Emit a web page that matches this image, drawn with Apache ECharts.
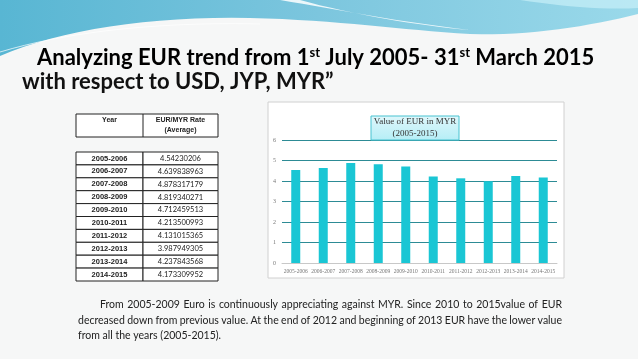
<!DOCTYPE html>
<html><head><meta charset="utf-8">
<script src="https://cdn.jsdelivr.net/npm/echarts@6/dist/echarts.min.js"></script>
<style>html,body{margin:0;padding:0;background:#f6f7f7}#c{width:638px;height:359px}</style>
</head><body><div id="c"></div>
<script>
const categories = ['2005-2006','2006-2007','2007-2008','2008-2009','2009-2010','2010-2011','2011-2012','2012-2013','2013-2014','2014-2015'];
const rateText = ['4.54230206','4.639838963','4.878317179','4.819340271','4.712459513','4.213500993','4.131015365','3.987949305','4.237843568','4.173309952'];
const rates = rateText.map(Number);
const titleLine1 = ['Analyzing EUR trend from 1','st',' July 2005- 31','st',' March 2015'];
const titleLine2 = 'with respect to USD, JYP, MYR\u201D';
const bodyLines = [
 'From 2005-2009 Euro is continuously appreciating against MYR. Since 2010 to 2015value of EUR',
 'decreased down from previous value. At the end of 2012 and beginning of 2013 EUR have the lower value',
 'from all the years (2005-2015).'
];
function lin(x2,y2,stops){return {type:'linear',x:0,y:0,x2:x2,y2:y2,colorStops:stops};}
function bez(p0,p1,p2,p3,n){const out=[];for(let i=0;i<=n;i++){const t=i/n,u=1-t;out.push([u*u*u*p0[0]+3*u*u*t*p1[0]+3*u*t*t*p2[0]+t*t*t*p3[0],u*u*u*p0[1]+3*u*u*t*p1[1]+3*u*t*t*p2[1]+t*t*t*p3[1]]);}return out;}
const mctx = document.createElement('canvas').getContext('2d');

const chart = echarts.init(document.getElementById('c'), null, {renderer:'canvas'});
const g = [];
let wave = [[0,0],[638,0]].concat(bez([638,14],[590,26],[530,36],[470,34],16), bez([470,34],[400,30],[340,20],[250,18],16), bez([250,18],[150,16],[60,30],[0,56],16));
g.push({type:'polygon', shape:{points:wave}, style:{fill:lin(1,0,[{offset:0,color:'#58b6d3'},{offset:0.5,color:'#7cc6de'},{offset:1,color:'#9ad9ea'}])}, z:0});
let sw = bez([280,0],[340,10],[400,22],[470,30],16).concat(bez([470,30],[420,26],[350,14],[300,0],16));
g.push({type:'polygon', shape:{points:sw}, style:{fill:'rgba(255,255,255,0.85)'}, z:1});
let sw2 = bez([520,0],[560,6],[600,10],[638,8],12).concat([[638,0]]);
g.push({type:'polygon', shape:{points:sw2}, style:{fill:'rgba(200,240,248,0.7)'}, z:1});
g.push({type:'polyline', shape:{points:bez([0,52],[80,28],[180,22],[260,24],20)}, style:{stroke:'rgba(255,255,255,0.7)', lineWidth:1}, z:1});
// title
let rich1 = {a:{fontSize:22,fontWeight:'bold',fontFamily:'Lato',color:'#111'}, s:{fontSize:13,fontWeight:'bold',fontFamily:'Lato',color:'#111',verticalAlign:'top',padding:[0,0,11,0]}};
let t1 = titleLine1.map((p,i)=> (i%2===1? '{s|'+p+'}' : '{a|'+p+'}')).join('');
g.push({type:'text', x:37, y:46, style:{text:t1, rich:rich1}, z:5});
g.push({type:'text', x:22, y:71, style:{text:titleLine2, fontSize:22, fontWeight:'bold', fontFamily:'Lato', fill:'#111'}, z:5});
// chart box
g.push({type:'rect', shape:{x:268,y:102,width:296,height:176}, style:{fill:'#fff', stroke:'#d0d0d0', lineWidth:1}, z:0});
g.push({type:'rect', shape:{x:371,y:116,width:88,height:24}, style:{fill:lin(0,1,[{offset:0,color:'#dff7fb'},{offset:1,color:'#b5eef6'}]), stroke:'#49c3d1', lineWidth:1}, z:6});
g.push({type:'text', x:415, y:122, style:{text:'Value of EUR in MYR', fontSize:9, fontFamily:'Liberation Serif', fill:'#333', align:'center', verticalAlign:'middle'}, z:7});
g.push({type:'text', x:415, y:134, style:{text:'(2005-2015)', fontSize:9, fontFamily:'Liberation Serif', fill:'#333', align:'center', verticalAlign:'middle'}, z:7});
// table
const tx0=76, tx1=143, tx2=218;
g.push({type:'rect', shape:{x:tx0,y:114,width:tx2-tx0,height:23}, style:{fill:'#fff', stroke:'#222', lineWidth:1}, z:2});
g.push({type:'line', shape:{x1:tx1,y1:114,x2:tx1,y2:137}, style:{stroke:'#222', lineWidth:1}, z:3});
g.push({type:'text', x:(tx0+tx1)/2, y:120, style:{text:'Year', fontSize:7, fontWeight:'bold', fontFamily:'Liberation Sans', fill:'#222', align:'center', verticalAlign:'middle'}, z:3});
g.push({type:'text', x:(tx1+tx2)/2, y:120, style:{text:'EUR/MYR Rate', fontSize:7, fontWeight:'bold', fontFamily:'Liberation Sans', fill:'#222', align:'center', verticalAlign:'middle'}, z:3});
g.push({type:'text', x:(tx1+tx2)/2, y:130, style:{text:'(Average)', fontSize:7, fontWeight:'bold', fontFamily:'Liberation Sans', fill:'#222', align:'center', verticalAlign:'middle'}, z:3});
const ry0=152, rh=12.9;
categories.forEach((c,i)=>{
  const y=ry0+i*rh;
  g.push({type:'rect', shape:{x:tx0,y:y,width:tx1-tx0,height:rh}, style:{fill:'#fff', stroke:'#222', lineWidth:1}, z:2});
  g.push({type:'rect', shape:{x:tx1,y:y,width:tx2-tx1,height:rh}, style:{fill:'#fff', stroke:'#222', lineWidth:1}, z:2});
  g.push({type:'text', x:(tx0+tx1)/2, y:y+rh/2, style:{text:c, fontSize:7.5, fontWeight:'bold', fontFamily:'Liberation Sans', fill:'#222', align:'center', verticalAlign:'middle'}, z:3});
  g.push({type:'text', x:(tx1+tx2)/2, y:y+rh/2, style:{text:rateText[i], fontSize:7.5, fontFamily:'Lato', fill:'#222', align:'center', verticalAlign:'middle'}, z:3});
});
// body text, justified lines
const bx=[100,78,78], by=[305,321,336], bRight=562, bFont=10.5;
mctx.font = bFont+'px Lato';
bodyLines.forEach((l,i)=>{
  if(i===bodyLines.length-1){
    g.push({type:'text', x:bx[i], y:by[i], style:{text:l, fontSize:bFont, fontFamily:'Lato', fill:'#222', verticalAlign:'middle'}, z:3});
    return;
  }
  const words=l.split(' ');
  const widths=words.map(w=>mctx.measureText(w).width);
  const total=widths.reduce((a,b)=>a+b,0);
  const gap=(bRight-bx[i]-total)/(words.length-1);
  let x=bx[i];
  words.forEach((w,k)=>{
    g.push({type:'text', x:x, y:by[i], style:{text:w, fontSize:bFont, fontFamily:'Lato', fill:'#222', verticalAlign:'middle'}, z:3});
    x+=widths[k]+gap;
  });
});

chart.setOption({
  animation:false,
  backgroundColor:'transparent',
  graphic:{elements:g},
  grid:{left:282, right:81, top:140, bottom:96, containLabel:false},
  xAxis:{type:'category', data:categories,
    axisLine:{lineStyle:{color:'#c8c8c8'}}, axisTick:{show:false},
    axisLabel:{interval:0, fontSize:5.5, fontFamily:'Liberation Serif', color:'#777', margin:6}},
  yAxis:{type:'value', min:0, max:6, interval:1,
    axisLine:{show:false}, axisTick:{show:false},
    axisLabel:{fontSize:6, fontFamily:'Liberation Serif', color:'#777', margin:6},
    splitLine:{lineStyle:{color:'#2d8b95', width:1}}},
  series:[{type:'bar', data:rates, barWidth:9, itemStyle:{color:'#1ac6d4'}, z:4}]
});
</script></body></html>
